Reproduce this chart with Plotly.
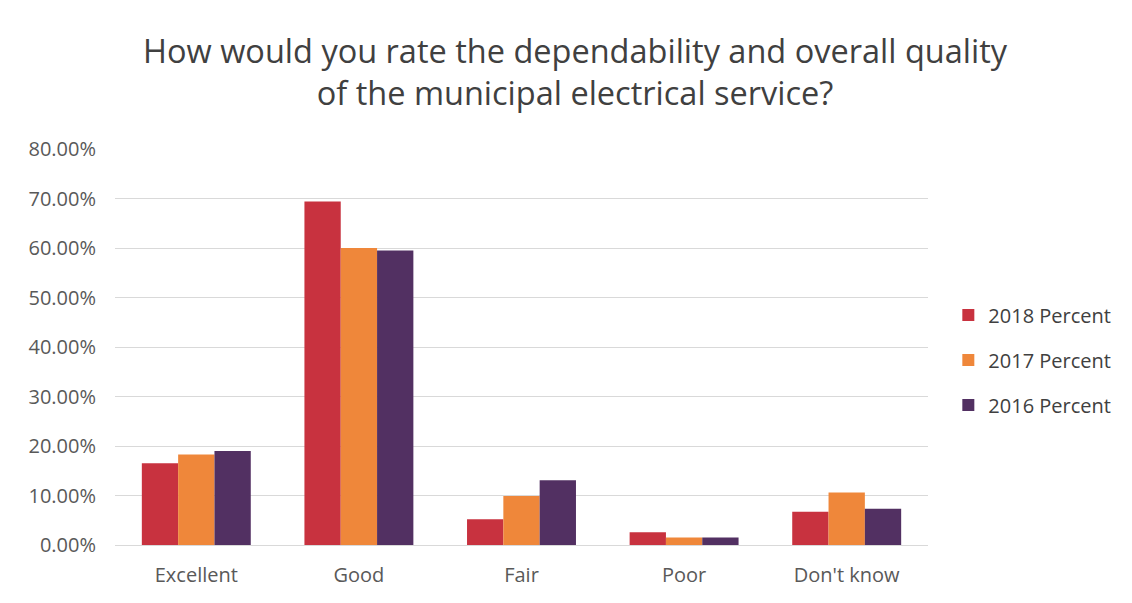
import plotly.graph_objects as go

categories = ["Excellent", "Good", "Fair", "Poor", "Don't know"]
series_names = ["2018 Percent", "2017 Percent", "2016 Percent"]
pct_2018 = [0.165, 0.694, 0.052, 0.026, 0.067]
pct_2017 = [0.183, 0.600, 0.099, 0.015, 0.106]
pct_2016 = [0.190, 0.595, 0.131, 0.015, 0.073]
colors = ["#C8323F", "#EF873A", "#523062"]
y_ticks = [0.0, 0.1, 0.2, 0.3, 0.4, 0.5, 0.6, 0.7, 0.8]

title_text = ("How would you rate the dependability and overall quality<br>"
              "of the municipal electrical service?")

font_family = "Open Sans, Liberation Sans, sans-serif"

fig = go.Figure()
for name, vals, col in zip(series_names, [pct_2018, pct_2017, pct_2016], colors):
    fig.add_trace(go.Bar(
        x=categories, y=vals, name=name, marker_color=col,
        marker_line_width=0, legendgroup=name,
        hovertemplate="%{x}: %{y:.2%}<extra>" + name + "</extra>",
    ))

fig.update_layout(
    width=1132, height=603,
    paper_bgcolor="white", plot_bgcolor="white",
    margin=dict(l=115, r=204, t=149, b=58),
    barmode="group", bargap=0.33, bargroupgap=0,
    font=dict(family=font_family, color="#595959"),
    title=dict(text=title_text, x=0.508, xanchor="center", y=0.896, yanchor="middle",
               font=dict(size=32.5, color="#404040", family=font_family)),
    legend=dict(x=1.025, xanchor="left", y=0.467, yanchor="middle",
                font=dict(size=20, color="#404040"), traceorder="grouped",
                tracegroupgap=16, itemwidth=30),
    showlegend=True,
)
fig.update_yaxes(range=[0, 0.8], tickvals=y_ticks, tickformat=".2%",
                 showgrid=True, gridcolor="#D9D9D9", gridwidth=1,
                 zeroline=False, showline=False, ticks="", ticklen=0,
                 ticklabelstandoff=18,
                 tickfont=dict(size=20, color="#595959"))
fig.update_xaxes(showline=True, linecolor="#D9D9D9", linewidth=1, ticks="",
                 ticklabelstandoff=12,
                 tickfont=dict(size=20, color="#595959"))

fig.write_html("out.html")
